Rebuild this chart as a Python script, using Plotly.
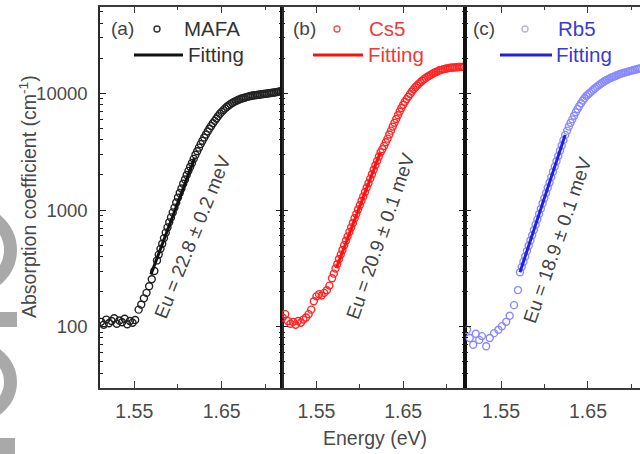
import plotly.graph_objects as go

# ---------------- data ----------------
E_mafa = [1.512, 1.515, 1.518, 1.521, 1.524, 1.527, 1.530, 1.533, 1.536, 1.539, 1.542, 1.545, 1.548, 1.551,
          1.555, 1.558, 1.561, 1.564, 1.567, 1.570, 1.573,
          1.576, 1.578, 1.580, 1.582, 1.584, 1.586, 1.588, 1.590, 1.592, 1.594, 1.596, 1.598, 1.600, 1.602,
          1.604, 1.606, 1.608, 1.610, 1.612, 1.614, 1.616, 1.618, 1.620, 1.622, 1.624, 1.626, 1.628, 1.630,
          1.632, 1.634, 1.636, 1.638, 1.640, 1.642, 1.644, 1.646, 1.648, 1.650, 1.652, 1.654, 1.656, 1.658,
          1.660, 1.662, 1.664, 1.666, 1.668, 1.670, 1.672, 1.674, 1.676, 1.678, 1.680, 1.682, 1.684, 1.686,
          1.688, 1.690, 1.692, 1.694, 1.696, 1.698, 1.700, 1.702, 1.704, 1.706, 1.708, 1.710, 1.712, 1.714,
          1.716, 1.718, 1.720]
A_mafa = [110, 104, 115, 107, 112, 118, 106, 113, 109, 117, 105, 112, 108, 114,
          140, 155, 175, 195, 222, 255, 300,
          370, 415, 465, 515, 575, 640, 710, 785, 865, 955, 1050, 1160, 1280, 1400,
          1530, 1680, 1830, 2000, 2170, 2350, 2530, 2750, 2980, 3200, 3430, 3680, 3930, 4190,
          4450, 4720, 5000, 5270, 5550, 5820, 6100, 6400, 6700, 6950, 7200, 7450, 7700, 7900,
          8100, 8280, 8450, 8600, 8750, 8880, 9000, 9100, 9200, 9300, 9400, 9480, 9550, 9600,
          9650, 9700, 9750, 9800, 9850, 9900, 9950, 10000, 10050, 10100, 10150, 10200, 10250, 10320,
          10400, 10450, 10500]
E_mafa_fit = [1.569, 1.619]
A_mafa_fit = [280, 2790]

E_cs5 = [1.511, 1.514, 1.517, 1.520, 1.523, 1.526, 1.529, 1.532, 1.535, 1.538, 1.541, 1.544, 1.547, 1.550,
         1.553, 1.556, 1.559, 1.562, 1.565, 1.568, 1.570,
         1.572, 1.574, 1.576, 1.578, 1.580, 1.582, 1.584, 1.586, 1.588, 1.590, 1.592, 1.594, 1.596, 1.598,
         1.600, 1.602, 1.604, 1.606, 1.608, 1.610, 1.612, 1.614, 1.616, 1.618, 1.620, 1.622, 1.624, 1.626,
         1.628, 1.630, 1.632, 1.634, 1.636, 1.638, 1.640, 1.642, 1.644, 1.646, 1.648, 1.650, 1.652, 1.654,
         1.656, 1.658, 1.660, 1.662, 1.664, 1.666, 1.668, 1.670, 1.672, 1.674, 1.676, 1.678, 1.680, 1.682,
         1.684, 1.686, 1.688, 1.690, 1.692, 1.694, 1.696, 1.698, 1.700, 1.702, 1.704, 1.706, 1.708, 1.710,
         1.712, 1.714, 1.716, 1.718, 1.720]
A_cs5 = [120, 128, 112, 106, 110, 104, 112, 108, 115, 120, 128, 140, 165, 182,
         190, 185, 195, 205, 225, 260, 285,
         315, 345, 380, 415, 455, 500, 545, 595, 650, 710, 775, 850, 925, 1010,
         1100, 1200, 1310, 1430, 1560, 1700, 1860, 2030, 2220, 2420, 2640, 2880, 3130, 3330,
         3550, 3820, 4100, 4450, 4800, 5200, 5600, 6050, 6500, 7000, 7500, 8000, 8500, 8950,
         9400, 9900, 10400, 10850, 11300, 11700, 12100, 12500, 12900, 13250, 13600, 13900, 14200, 14500,
         14800, 15050, 15300, 15550, 15800, 15950, 16100, 16250, 16400, 16500, 16600, 16650, 16700, 16750,
         16800, 16850, 16900, 16920, 16950]
E_cs5_fit = [1.573, 1.6235]
A_cs5_fit = [318, 3100]

E_rb5 = [1.511, 1.514, 1.518, 1.521, 1.525, 1.528, 1.533, 1.537, 1.542, 1.547, 1.551, 1.556, 1.560, 1.565,
         1.5695, 1.5718, 1.5738, 1.5758, 1.5778, 1.5798, 1.5818, 1.5838, 1.5858, 1.5878, 1.5898, 1.5918,
         1.5938, 1.5958, 1.5978, 1.5998, 1.6018, 1.6038, 1.6058, 1.6078, 1.6098, 1.6118, 1.6138, 1.6158,
         1.6178, 1.6198, 1.6218, 1.6238, 1.626, 1.628, 1.630, 1.632, 1.634, 1.636, 1.638, 1.640, 1.642,
         1.644, 1.646, 1.648, 1.650, 1.652, 1.654, 1.656, 1.658, 1.660, 1.662, 1.664, 1.666, 1.668, 1.670,
         1.672, 1.674, 1.676, 1.678, 1.680, 1.682, 1.684, 1.686, 1.688, 1.690, 1.692, 1.694, 1.696, 1.698,
         1.700, 1.702, 1.704, 1.706, 1.708, 1.710]
A_rb5 = [94, 80, 70, 87, 77, 83, 68, 80, 88, 94, 101, 110, 124, 153,
         206, 293, 325, 361, 400, 445, 494, 548, 608, 675, 750, 832,
         925, 1025, 1140, 1262, 1400, 1555, 1725, 1916, 2130, 2360, 2620, 2908,
         3230, 3583, 3980, 4414, 4800, 5200, 5600, 6000, 6450, 6900, 7350, 7800, 8250,
         8700, 9100, 9500, 9800, 10100, 10420, 10750, 11080, 11400, 11700, 12000, 12300, 12600, 12850,
         13100, 13350, 13600, 13800, 14000, 14200, 14400, 14600, 14800, 14950, 15100, 15250, 15400, 15550,
         15700, 15850, 16000, 16150, 16300, 16400]
E_rb5_fit = [1.5718, 1.6238]
A_rb5_fit = [293, 4414]

samples = ["MAFA", "Cs5", "Rb5"]
panel_tags = ["(a)", "(b)", "(c)"]
eu_labels = ["Eu = 22.8 ± 0.2 meV", "Eu = 20.9 ± 0.1 meV", "Eu = 18.9 ± 0.1 meV"]
x_tick_vals = [1.55, 1.65]
x_tick_text = ["1.55", "1.65"]
x_minor_vals = [1.60, 1.70]
y_tick_vals = [100, 1000, 10000]
y_tick_text = ["100", "1000", "10000"]
y_minor_vals = [m * 10 ** k for k in (1, 2, 3, 4) for m in range(2, 10)]

# ---------------- styling ----------------
W, H = 640, 454
FONT = "Liberation Sans, Arial, sans-serif"
TXT = "#4a4a4a"
marker_cols = ["#222222", "#ff2626", "#8a8aff"]
fit_cols = ["#111111", "#ff1010", "#2020e0"]
legend_txt_cols = ["#333333", "#ee3a3a", "#3a3ad0"]
legend_marker_cols = ["#333333", "#ee5555", "#b4b4ee"]

E_all = [E_mafa, E_cs5, E_rb5]
A_all = [A_mafa, A_cs5, A_rb5]
Ef_all = [E_mafa_fit, E_cs5_fit, E_rb5_fit]
Af_all = [A_mafa_fit, A_cs5_fit, A_rb5_fit]

# panel pixel geometry
left_px = [100, 282, 465]
right_px = [282, 465, 640]
x_ranges = [[1.5108, 1.719], [1.5103, 1.7213], [1.5086, 1.7098]]
top_px, bottom_px = 6.5, 388

fig = go.Figure()
for i in range(3):
    xa = "x" if i == 0 else f"x{i+1}"
    ya = "y" if i == 0 else f"y{i+1}"
    fig.add_trace(go.Scatter(
        x=E_all[i], y=A_all[i], mode="markers", xaxis=xa, yaxis=ya,
        marker=dict(symbol="circle-open", size=7, color=marker_cols[i], line=dict(width=1.4)),
        showlegend=False, hoverinfo="skip"))
    fig.add_trace(go.Scatter(
        x=Ef_all[i], y=Af_all[i], mode="lines", xaxis=xa, yaxis=ya,
        line=dict(color=fit_cols[i], width=3), showlegend=False, hoverinfo="skip"))

layout = dict(
    width=W, height=H, template="none",
    paper_bgcolor="white", plot_bgcolor="white",
    margin=dict(l=0, r=0, t=0, b=0, pad=0),
    showlegend=False,
    font=dict(family=FONT, color=TXT, size=19),
)

ydom = [1 - bottom_px / H, 1 - top_px / H]
for i in range(3):
    xk = "xaxis" if i == 0 else f"xaxis{i+1}"
    yk = "yaxis" if i == 0 else f"yaxis{i+1}"
    ya = "y" if i == 0 else f"y{i+1}"
    xa = "x" if i == 0 else f"x{i+1}"
    layout[xk] = dict(
        domain=[left_px[i] / W, right_px[i] / W], range=x_ranges[i], anchor=ya,
        showgrid=False, zeroline=False, showline=True, linecolor="#3a3a3a", linewidth=1.6,
        mirror="ticks", ticks="inside", ticklen=7, tickwidth=1.4, tickcolor="#3a3a3a",
        tickvals=x_tick_vals, ticktext=x_tick_text, ticklabelstandoff=5,
        tickfont=dict(size=19.5, color=TXT, family=FONT),
        minor=dict(tickvals=x_minor_vals, ticks="inside", ticklen=4, tickwidth=1.2, tickcolor="#3a3a3a"),
        automargin=False, fixedrange=True,
    )
    layout[yk] = dict(
        domain=ydom, type="log", range=[1.474, 4.746], anchor=xa,
        showgrid=False, zeroline=False, showline=True,
        linecolor="#111111" if i > 0 else "#2a2a2a", linewidth=1.8 if i > 0 else 1.5,
        mirror="ticks" if i < 2 else False, ticks="inside", ticklen=6, tickwidth=1.4, tickcolor="#222222",
        tickvals=y_tick_vals, ticktext=y_tick_text, showticklabels=(i == 0), ticklabelstandoff=7,
        tickfont=dict(size=18.5, color=TXT, family=FONT),
        minor=dict(tickvals=y_minor_vals, ticks="inside", ticklen=3.5, tickwidth=1.1, tickcolor="#222222"),
        automargin=False, fixedrange=True,
    )
fig.update_layout(**layout)

# ---------------- annotations (legends, titles, Eu labels) ----------------
def px(xp):
    return xp / W

def py(yp):
    return 1 - yp / H

ann = []
shapes = []
tag_x = [122, 304, 484]
circ_x = [157, 337, 525]
name_x = [182, 367, 556]
line_x = [(134, 183), (313, 363), (500, 552)]
fit_txt_x = [186, 366, 554]
row1, row2 = 29, 55
eu_pos = [(193, 237, -68), (380, 236, -71), (557, 240, -71)]

for i in range(3):
    ann.append(dict(x=px(tag_x[i]), y=py(row1), xref="paper", yref="paper", text=panel_tags[i],
                    showarrow=False, xanchor="center", yanchor="middle",
                    font=dict(size=19, color="#444444", family=FONT)))
    ann.append(dict(x=px(name_x[i]), y=py(row1), xref="paper", yref="paper", text=samples[i],
                    showarrow=False, xanchor="left", yanchor="middle",
                    font=dict(size=20.5, color=legend_txt_cols[i], family=FONT)))
    ann.append(dict(x=px(fit_txt_x[i]), y=py(row2), xref="paper", yref="paper", text="Fitting",
                    showarrow=False, xanchor="left", yanchor="middle",
                    font=dict(size=20.5, color=legend_txt_cols[i], family=FONT)))
    shapes.append(dict(type="line", xref="paper", yref="paper",
                       x0=px(line_x[i][0]), x1=px(line_x[i][1]), y0=py(row2), y1=py(row2),
                       line=dict(color=fit_cols[i], width=3)))
    shapes.append(dict(type="circle", xref="paper", yref="paper",
                       xsizemode="pixel", ysizemode="pixel",
                       xanchor=px(circ_x[i]), yanchor=py(row1),
                       x0=-3, x1=3, y0=-3, y1=3,
                       line=dict(color=legend_marker_cols[i], width=1.4)))
    ex, ey, ang = eu_pos[i]
    ann.append(dict(x=px(ex), y=py(ey), xref="paper", yref="paper", text=eu_labels[i],
                    showarrow=False, xanchor="center", yanchor="middle", textangle=ang,
                    font=dict(size=19, color="#444444", family=FONT)))

ann.append(dict(x=px(375), y=py(438), xref="paper", yref="paper", text="Energy (eV)",
                showarrow=False, xanchor="center", yanchor="middle",
                font=dict(size=19.5, color=TXT, family=FONT)))
ann.append(dict(x=px(28), y=py(197), xref="paper", yref="paper",
                text="Absorption coefficient (cm<sup>-1</sup>)",
                showarrow=False, xanchor="center", yanchor="middle", textangle=-90,
                font=dict(size=19.5, color=TXT, family=FONT)))

# grey watermark fragments at the left edge of the reference picture
WM = "#a9a9a9"
shapes += [
    dict(type="circle", xref="paper", yref="paper", layer="below",
         x0=px(-95), x1=px(10.5), y0=py(293.5), y1=py(206.5), line=dict(color=WM, width=13)),
    dict(type="rect", xref="paper", yref="paper", layer="below",
         x0=px(-5), x1=px(17), y0=py(327), y1=py(312), fillcolor=WM, line=dict(width=0)),
    dict(type="circle", xref="paper", yref="paper", layer="below",
         x0=px(-85), x1=px(10.5), y0=py(420.5), y1=py(343.5), line=dict(color=WM, width=13)),
    dict(type="rect", xref="paper", yref="paper", layer="below",
         x0=px(-5), x1=px(15), y0=py(460), y1=py(438), fillcolor=WM, line=dict(width=0)),
]

fig.update_layout(annotations=ann, shapes=shapes)
fig.write_html("out.html")
